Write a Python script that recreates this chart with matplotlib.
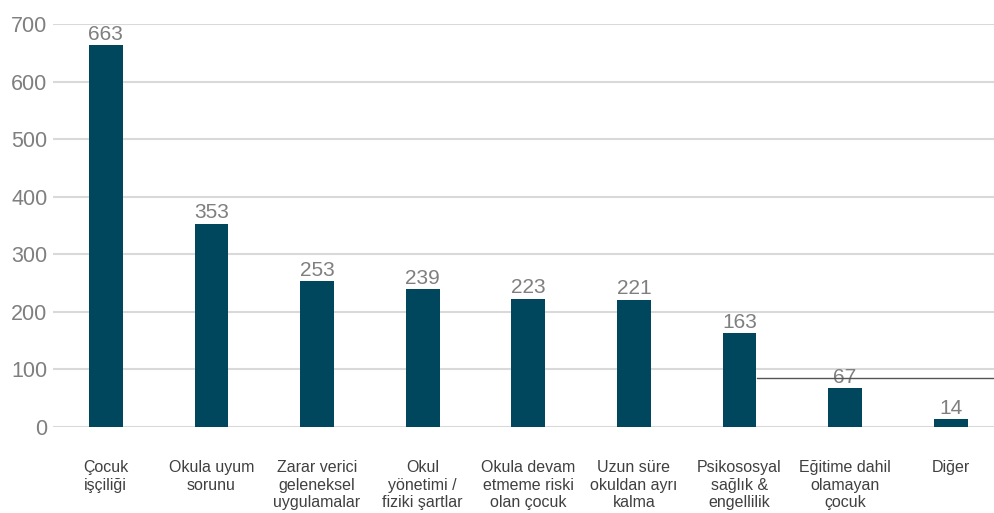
import matplotlib
matplotlib.use("Agg")
import matplotlib.pyplot as plt
from matplotlib.lines import Line2D

plt.rcParams['font.family'] = ['Liberation Sans', 'DejaVu Sans']

categories = [
    "Çocuk\nişçiliği",
    "Okula uyum\nsorunu",
    "Zarar verici\ngeleneksel\nuygulamalar",
    "Okul\nyönetimi /\nfiziki şartlar",
    "Okula devam\netmeme riski\nolan çocuk",
    "Uzun süre\nokuldan ayrı\nkalma",
    "Psikososyal\nsağlık &\nengellilik",
    "Eğitime dahil\nolamayan\nçocuk",
    "Diğer",
]
values = [663, 353, 253, 239, 223, 221, 163, 67, 14]
yticks = [0, 100, 200, 300, 400, 500, 600, 700]

W, H = 994, 513
fig = plt.figure(figsize=(W / 100, H / 100), dpi=100)
ax = fig.add_axes([53 / W, (H - 427) / H, 1 - 53 / W, (427 - 24) / H])

x = list(range(len(values)))
bars = ax.bar(x, values, width=0.32, color="#00475d", zorder=3)
for xi, v in zip(x, values):
    ax.annotate(str(v), (xi, v), xytext=(0, 1), textcoords="offset points",
                ha="center", va="bottom", fontsize=15, color="#7f7f7f", zorder=4)

ax.set_xlim(-0.5, 8.41)
ax.set_ylim(0, 700)
ax.set_yticks(yticks)
ax.set_yticklabels([str(t) for t in yticks])
ax.yaxis.grid(True, color="#d9d9d9", linewidth=1.5, zorder=0)
ax.tick_params(axis="y", length=0, pad=4, labelsize=15.5, labelcolor="#7f7f7f")
ax.tick_params(axis="x", length=0, pad=0)
ax.set_xticks([])
for s in ax.spines.values():
    s.set_visible(False)

for xi, c in zip(x, categories):
    ax.annotate(c, (xi, 0), xytext=(0, -24), textcoords="offset points",
                ha="center", va="top", fontsize=11.5, color="#404040",
                linespacing=1.2, annotation_clip=False)

# stray line visible in the reference screenshot
fig.add_artist(Line2D([757 / W, 1.0], [(H - 378) / H] * 2, color="#555555",
                      linewidth=1, transform=fig.transFigure))

fig.savefig("out.png", dpi=100, facecolor="white")
